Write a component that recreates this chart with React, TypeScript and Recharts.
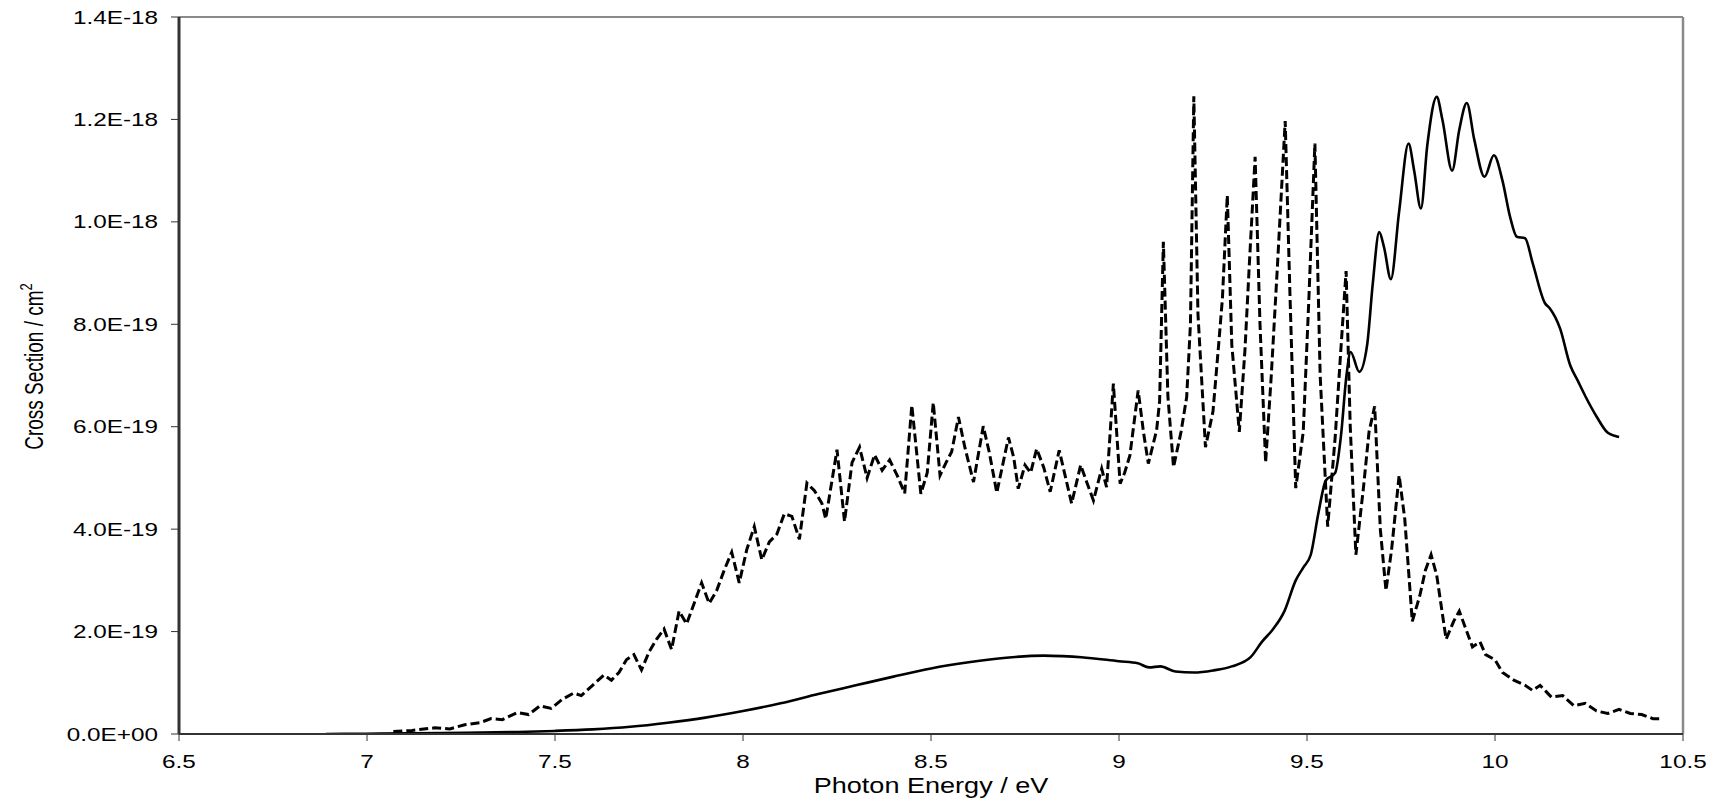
import React from 'react';
import { LineChart, Line, XAxis, YAxis, ReferenceLine } from 'recharts';

// Photon energy (eV) and cross section (units of 1e-19 cm^2)
const solidEnergy = [6.89, 7.0, 7.2, 7.4, 7.5, 7.6, 7.7, 7.8, 7.9, 8.0, 8.1, 8.2, 8.3, 8.4, 8.5, 8.6, 8.7, 8.8, 8.85, 8.9, 9.0, 9.05, 9.08, 9.11, 9.15, 9.2, 9.25, 9.3, 9.35, 9.38, 9.41, 9.44, 9.47, 9.49, 9.51, 9.53, 9.55, 9.575, 9.59, 9.605, 9.616, 9.639, 9.66, 9.675, 9.692, 9.705, 9.723, 9.745, 9.77, 9.785, 9.803, 9.82, 9.845, 9.86, 9.886, 9.905, 9.925, 9.945, 9.972, 9.997, 10.02, 10.04, 10.058, 10.08, 10.1, 10.133, 10.146, 10.173, 10.2, 10.22, 10.24, 10.27, 10.3, 10.32, 10.33];
const solidValue = [0, 0.005, 0.02, 0.04, 0.06, 0.09, 0.14, 0.22, 0.32, 0.45, 0.6, 0.78, 0.95, 1.12, 1.28, 1.4, 1.49, 1.53, 1.52, 1.5, 1.42, 1.38, 1.3, 1.32, 1.22, 1.2, 1.24, 1.32, 1.5, 1.8, 2.05, 2.4, 3.0, 3.25, 3.5, 4.3, 4.95, 5.1, 5.8, 7.0, 7.46, 7.07, 7.6, 8.8, 9.8, 9.5, 8.88, 10.2, 11.53, 11.0, 10.26, 11.5, 12.44, 12.0, 11.0, 11.8, 12.32, 11.6, 10.88, 11.3, 10.8, 10.1, 9.71, 9.68, 9.2, 8.41, 8.31, 7.92, 7.2, 6.9, 6.6, 6.2, 5.88, 5.82, 5.8];

const dashedEnergy = [7.07, 7.12, 7.18, 7.22, 7.26, 7.3, 7.33, 7.36, 7.4, 7.43, 7.46, 7.49, 7.52, 7.55, 7.57, 7.6, 7.63, 7.65, 7.67, 7.69, 7.71, 7.73, 7.75, 7.77, 7.79, 7.81, 7.83, 7.85, 7.87, 7.89, 7.91, 7.93, 7.95, 7.97, 7.99, 8.01, 8.03, 8.05, 8.07, 8.09, 8.11, 8.13, 8.15, 8.17, 8.19, 8.21, 8.22, 8.24, 8.25, 8.27, 8.29, 8.31, 8.33, 8.35, 8.37, 8.39, 8.41, 8.43, 8.449, 8.473, 8.49, 8.506, 8.524, 8.54, 8.555, 8.573, 8.59, 8.613, 8.639, 8.655, 8.675, 8.706, 8.72, 8.732, 8.75, 8.765, 8.781, 8.8, 8.817, 8.841, 8.855, 8.874, 8.898, 8.915, 8.932, 8.954, 8.967, 8.985, 9.003, 9.015, 9.029, 9.051, 9.065, 9.078, 9.1, 9.108, 9.118, 9.13, 9.145, 9.165, 9.18, 9.19, 9.199, 9.21, 9.23, 9.25, 9.265, 9.275, 9.288, 9.3, 9.32, 9.335, 9.347, 9.362, 9.375, 9.39, 9.405, 9.421, 9.442, 9.455, 9.47, 9.49, 9.505, 9.521, 9.535, 9.555, 9.575, 9.59, 9.604, 9.615, 9.63, 9.65, 9.665, 9.68, 9.695, 9.71, 9.725, 9.745, 9.76, 9.78, 9.8, 9.815, 9.83, 9.845, 9.87, 9.89, 9.905, 9.92, 9.94, 9.96, 9.975, 10.0, 10.02, 10.05, 10.08, 10.1, 10.12, 10.15, 10.18, 10.21, 10.24, 10.27, 10.3, 10.33, 10.36, 10.39, 10.42, 10.44];
const dashedValue = [0.05, 0.07, 0.12, 0.1, 0.18, 0.22, 0.3, 0.28, 0.42, 0.38, 0.55, 0.5, 0.68, 0.8, 0.75, 0.95, 1.15, 1.05, 1.2, 1.45, 1.55, 1.25, 1.6, 1.85, 2.05, 1.65, 2.4, 2.15, 2.55, 2.95, 2.55, 2.8, 3.2, 3.55, 2.95, 3.6, 4.05, 3.4, 3.75, 3.9, 4.3, 4.25, 3.8, 4.9, 4.75, 4.5, 4.2, 5.1, 5.55, 4.15, 5.3, 5.6, 5.0, 5.45, 5.15, 5.35, 5.05, 4.7, 6.42, 4.69, 5.1, 6.47, 5.05, 5.3, 5.51, 6.19, 5.6, 4.92, 6.01, 5.5, 4.71, 5.79, 5.4, 4.79, 5.25, 5.1, 5.57, 5.2, 4.73, 5.54, 5.1, 4.5, 5.25, 4.9, 4.56, 5.18, 4.82, 6.84, 4.89, 5.1, 5.44, 6.71, 5.9, 5.28, 5.93, 6.5, 9.61, 6.6, 5.21, 5.9, 6.58, 8.0, 12.45, 8.2, 5.6, 6.3, 7.6, 8.5, 10.52, 7.6, 5.9, 7.5, 9.22, 11.27, 8.0, 5.3, 7.0, 9.09, 11.97, 8.5, 4.8, 5.9, 8.5, 11.53, 7.0, 4.05, 5.8, 7.5, 9.04, 6.0, 3.5, 4.8, 5.9, 6.4, 4.0, 2.8, 3.6, 5.05, 4.2, 2.2, 2.7, 3.2, 3.5, 3.1, 1.85, 2.2, 2.4, 2.1, 1.7, 1.8, 1.55, 1.45, 1.2, 1.05, 0.95, 0.85, 0.95, 0.72, 0.75, 0.55, 0.6, 0.45, 0.4, 0.48, 0.4, 0.38, 0.3, 0.3];

const xTicks = [6.5, 7, 7.5, 8, 8.5, 9, 9.5, 10, 10.5];
const xTickLabels = ['6.5', '7', '7.5', '8', '8.5', '9', '9.5', '10', '10.5'];
const yTicks = [0, 2, 4, 6, 8, 10, 12, 14];
const yTickLabels = ['0.0E+00', '2.0E-19', '4.0E-19', '6.0E-19', '8.0E-19', '1.0E-18', '1.2E-18', '1.4E-18'];

const solidData = solidEnergy.map((e, i) => ({ e, v: solidValue[i] }));
const dashedData = dashedEnergy.map((e, i) => ({ e, v: dashedValue[i] }));

const FONT = "'Liberation Sans', Arial, sans-serif";

const XTick = (props: any) => {
  const { x, y, payload } = props;
  const idx = xTicks.indexOf(payload.value);
  const label = idx >= 0 ? xTickLabels[idx] : String(payload.value);
  return (
    <g transform={`translate(${x},${y + 25}) scale(1.35,1)`}>
      <text x={0} y={0} textAnchor="middle" fontFamily={FONT} fontSize={18} fill="#000">{label}</text>
    </g>
  );
};

const YTick = (props: any) => {
  const { x, y, payload } = props;
  const idx = yTicks.indexOf(payload.value);
  const label = idx >= 0 ? yTickLabels[idx] : String(payload.value);
  return (
    <g transform={`translate(${x},${y + 6.5}) scale(1.35,1)`}>
      <text x={0} y={0} textAnchor="end" fontFamily={FONT} fontSize={18} fill="#000">{label}</text>
    </g>
  );
};

const XLabel = (props: any) => {
  const vb = props.viewBox || {};
  const cx = vb.x + vb.width / 2;
  return (
    <g transform={`translate(${cx},${vb.y + 59}) scale(1.23,1)`}>
      <text x={0} y={0} textAnchor="middle" fontFamily={FONT} fontSize={22} fill="#000">Photon Energy / eV</text>
    </g>
  );
};

const YLabel = (props: any) => {
  const vb = props.viewBox || {};
  const cy = vb.y + vb.height / 2 - 9;
  return (
    <g transform={`translate(43,${cy}) scale(1.32,1) rotate(-90)`}>
      <text x={0} y={0} textAnchor="middle" fontFamily={FONT} fontSize={19} fill="#000">
        Cross Section / cm<tspan dy={-8} fontSize={13}>2</tspan>
      </text>
    </g>
  );
};

export default function App() {
  return (
    <div style={{ position: 'absolute', left: 0, top: 0, width: 1713, height: 810, background: '#fff', overflow: 'hidden' }}>
      <LineChart width={1713} height={810} margin={{ top: 17, right: 30, left: 0, bottom: 0 }}>
        <XAxis
          dataKey="e"
          type="number"
          domain={[6.5, 10.5]}
          ticks={xTicks}
          allowDataOverflow
          height={76}
          tickSize={7}
          tickMargin={2}
          tick={<XTick />}
          axisLine={{ stroke: '#333', strokeWidth: 2 }}
          tickLine={{ stroke: '#333', strokeWidth: 1 }}
          label={<XLabel />}
        />
        <YAxis
          type="number"
          domain={[0, 14]}
          ticks={yTicks}
          allowDataOverflow
          width={179}
          tickSize={8}
          tickMargin={13}
          tick={<YTick />}
          axisLine={{ stroke: '#333', strokeWidth: 3 }}
          tickLine={{ stroke: '#333', strokeWidth: 1 }}
          label={<YLabel />}
        />
        <ReferenceLine y={14} stroke="#8a8a8a" strokeWidth={2} />
        <ReferenceLine x={10.5} stroke="#8a8a8a" strokeWidth={2.5} />
        <Line data={solidData} dataKey="v" type="monotone" stroke="#000" strokeWidth={2.6} dot={false} isAnimationActive={false} />
        <Line data={dashedData} dataKey="v" type="linear" stroke="#000" strokeWidth={3} strokeDasharray="9 4" dot={false} isAnimationActive={false} />
      </LineChart>
    </div>
  );
}
